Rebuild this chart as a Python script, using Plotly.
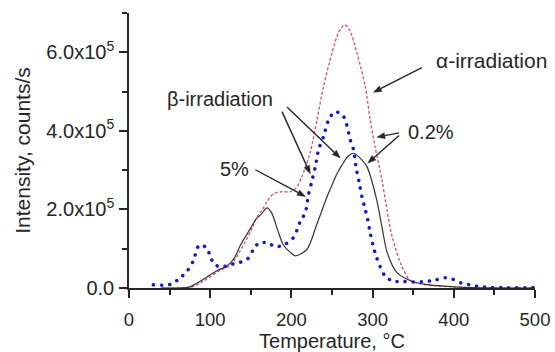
import math
import plotly.graph_objects as go

# ---- data (intensity in counts/s) ----
T_beta02 = [40, 60, 75, 90, 100, 110, 120, 130, 137, 150, 156, 163, 170, 176, 183, 190,
            199, 205, 219, 232, 244, 250, 256, 262, 270, 276.5, 284, 293, 305, 312, 318, 330,
            350, 370, 400, 420, 460, 500]
I_beta02 = [0, 0, 0.03e5, 0.2e5, 0.34e5, 0.46e5, 0.55e5, 0.77e5, 1.08e5, 1.53e5, 1.74e5,
            1.88e5, 2.04e5, 1.9e5, 1.48e5, 1.1e5, 0.9e5, 0.82e5, 0.98e5, 1.66e5, 2.33e5,
            2.62e5, 2.9e5, 3.12e5, 3.36e5, 3.43e5, 3.32e5, 3.09e5, 2.25e5, 1.5e5, 0.9e5,
            0.39e5, 0.16e5, 0.08e5, 0.03e5, 0.01e5, 0, 0]

T_alpha02 = [40, 60, 76, 90, 100, 112, 125, 137, 150, 158, 164, 170, 178, 188, 199, 206,
             213, 223, 231.5, 239.6, 250, 258, 265.5, 272, 280.7, 291, 297, 303, 311.4,
             316, 324, 336, 346, 360, 380, 400, 420, 460, 500]
I_alpha02 = [0, 0, 0.02e5, 0.15e5, 0.29e5, 0.45e5, 0.58e5, 0.95e5, 1.45e5, 1.82e5, 1.98e5,
             2.2e5, 2.4e5, 2.45e5, 2.45e5, 2.55e5, 2.84e5, 3.44e5, 4.28e5, 5.13e5, 5.98e5,
             6.5e5, 6.7e5, 6.55e5, 5.98e5, 5.13e5, 4.28e5, 3.6e5, 2.76e5, 2.2e5, 1.31e5,
             0.55e5, 0.2e5, 0.1e5, 0.05e5, 0.03e5, 0.01e5, 0, 0]

T_beta5 = [30, 41, 52, 63, 72, 79, 86.5, 96, 100, 106, 115, 125, 135, 146, 153, 160, 170,
           181, 191, 202, 207, 211, 217, 221, 225, 229.5, 233.5, 239.6, 245.8, 254, 264,
           268, 272.5, 276.5, 279.5, 283.5, 286.8, 290, 294, 297, 301, 305, 315.5, 325.7,
           336, 350, 367, 377, 389, 399, 410, 420, 430, 440, 460, 500]
I_beta5 = [0.08e5, 0.07e5, 0.1e5, 0.26e5, 0.44e5, 0.68e5, 1.09e5, 1.02e5, 0.8e5, 0.59e5,
           0.54e5, 0.6e5, 0.64e5, 0.74e5, 0.97e5, 1.15e5, 1.15e5, 1.05e5, 1.1e5, 1.27e5,
           1.48e5, 1.7e5, 1.91e5, 2.37e5, 2.7e5, 3.09e5, 3.52e5, 3.86e5, 4.28e5, 4.49e5,
           4.37e5, 4.16e5, 3.77e5, 3.52e5, 3.09e5, 2.68e5, 2.33e5, 2.07e5, 1.74e5, 1.4e5,
           1.05e5, 0.77e5, 0.3e5, 0.17e5, 0.17e5, 0.15e5, 0.17e5, 0.2e5, 0.26e5, 0.22e5,
           0.12e5, 0.08e5, 0.04e5, 0.02e5, 0.01e5, 0.01e5]

x_ticks = [0, 100, 200, 300, 400, 500]
y_ticks = [0, 2e5, 4e5, 6e5]
y_tick_text = ["0.0", "2.0x10<sup>5</sup>", "4.0x10<sup>5</sup>", "6.0x10<sup>5</sup>"]

X_RANGE = [0, 500]
Y_RANGE = [0, 7e5]
W, H = 555, 352
M = dict(l=128.5, r=20, t=13, b=64)

FONT = "Liberation Sans, Arial, sans-serif"
INK = "#262626"

fig = go.Figure()
fig.add_trace(go.Scatter(x=T_alpha02, y=I_alpha02, mode="lines", name="alpha 0.2%",
                         line=dict(color="#d2506c", width=1.3, dash="3px,2px",
                                   shape="spline", smoothing=0.8)))
fig.add_trace(go.Scatter(x=T_beta02, y=I_beta02, mode="lines", name="beta 0.2%",
                         line=dict(color="#333333", width=1.2, shape="spline", smoothing=0.8)))
fig.add_trace(go.Scatter(x=T_beta5, y=I_beta5, mode="lines", name="beta 5%",
                         line=dict(color="#1616c8", width=3.5, dash="0.1px,8px",
                                   shape="spline", smoothing=0.8)))

axis_common = dict(showline=True, linewidth=1.6, linecolor=INK, ticks="outside",
                   ticklen=8, tickwidth=1.6, tickcolor=INK, showgrid=False, zeroline=False,
                   automargin=False)

fig.update_xaxes(range=X_RANGE, tickvals=x_ticks,
                 tickfont=dict(family=FONT, size=18.5, color=INK),
                 minor=dict(dtick=50, tick0=0, ticklen=5, tickwidth=1.6, tickcolor=INK,
                            ticks="outside", showgrid=False),
                 title=dict(text="Temperature, °C", font=dict(family=FONT, size=20, color=INK),
                            standoff=0),
                 ticklabelstandoff=6,
                 **axis_common)
fig.update_yaxes(range=Y_RANGE, tickvals=y_ticks, ticktext=y_tick_text,
                 tickfont=dict(family=FONT, size=20, color=INK),
                 minor=dict(dtick=1e5, tick0=0, ticklen=5, tickwidth=1.6, tickcolor=INK,
                            ticks="outside", showgrid=False),
                 title=dict(text="Intensity, counts/s", font=dict(family=FONT, size=21, color=INK),
                            standoff=10),
                 ticklabelstandoff=1,
                 **axis_common)

texts = [
    ("α-irradiation", 447, 5.78e5, 21),
    ("0.2%", 372, 3.98e5, 20),
    ("β-irradiation", 112.5, 4.82e5, 20),
    ("5%", 129.8, 3.04e5, 20),
]
for t, x, y, fs in texts:
    fig.add_annotation(x=x, y=y, xref="x", yref="y", text=t, showarrow=False,
                       font=dict(family=FONT, size=fs, color=INK))

# arrows (head, tail) in data coordinates, drawn as shapes
arrows = [
    ((301.1, 4.98e5), (360.6, 5.61e5)),
    ((305.3, 3.84e5), (332.7, 3.95e5)),
    ((294.2, 3.18e5), (332.7, 3.88e5)),
    ((260.1, 3.31e5), (194.6, 4.61e5)),
    ((223.2, 2.91e5), (188.4, 4.49e5)),
    ((217.1, 2.33e5), (155.6, 3.01e5)),
]
sx = (W - M["l"] - M["r"]) / (X_RANGE[1] - X_RANGE[0])   # px per x unit
sy = (H - M["t"] - M["b"]) / (Y_RANGE[1] - Y_RANGE[0])   # px per y unit
HEAD_L, HEAD_W = 8.0, 3.0
for (hx, hy), (tx, ty) in arrows:
    dxp = (hx - tx) * sx
    dyp = (hy - ty) * sy
    L = math.hypot(dxp, dyp)
    ux, uy = dxp / L, dyp / L
    nx, ny = -uy, ux
    bx, by = -ux * HEAD_L, -uy * HEAD_L
    p1 = (hx + (bx + nx * HEAD_W) / sx, hy + (by + ny * HEAD_W) / sy)
    p2 = (hx + (bx - nx * HEAD_W) / sx, hy + (by - ny * HEAD_W) / sy)
    base = (hx + bx / sx, hy + by / sy)
    fig.add_shape(type="line", xref="x", yref="y", x0=tx, y0=ty, x1=base[0], y1=base[1],
                  line=dict(color=INK, width=1.4), layer="above")
    fig.add_shape(type="path", xref="x", yref="y",
                  path=f"M {hx},{hy} L {p1[0]},{p1[1]} L {p2[0]},{p2[1]} Z",
                  fillcolor=INK, line=dict(color=INK, width=0.5), layer="above")

fig.update_layout(width=W, height=H, margin=M,
                  paper_bgcolor="white", plot_bgcolor="white", showlegend=False,
                  font=dict(family=FONT, color=INK))

post = """
var gd = document.getElementById('{plot_id}');
gd.querySelectorAll('.scatterlayer .js-line').forEach(function(p){
  var s = p.style.stroke || '';
  if (s.indexOf('22, 22, 200') >= 0 || s.indexOf('1616c8') >= 0) { p.style.strokeLinecap = 'round'; }
});
"""
fig.write_html("out.html", post_script=post)
